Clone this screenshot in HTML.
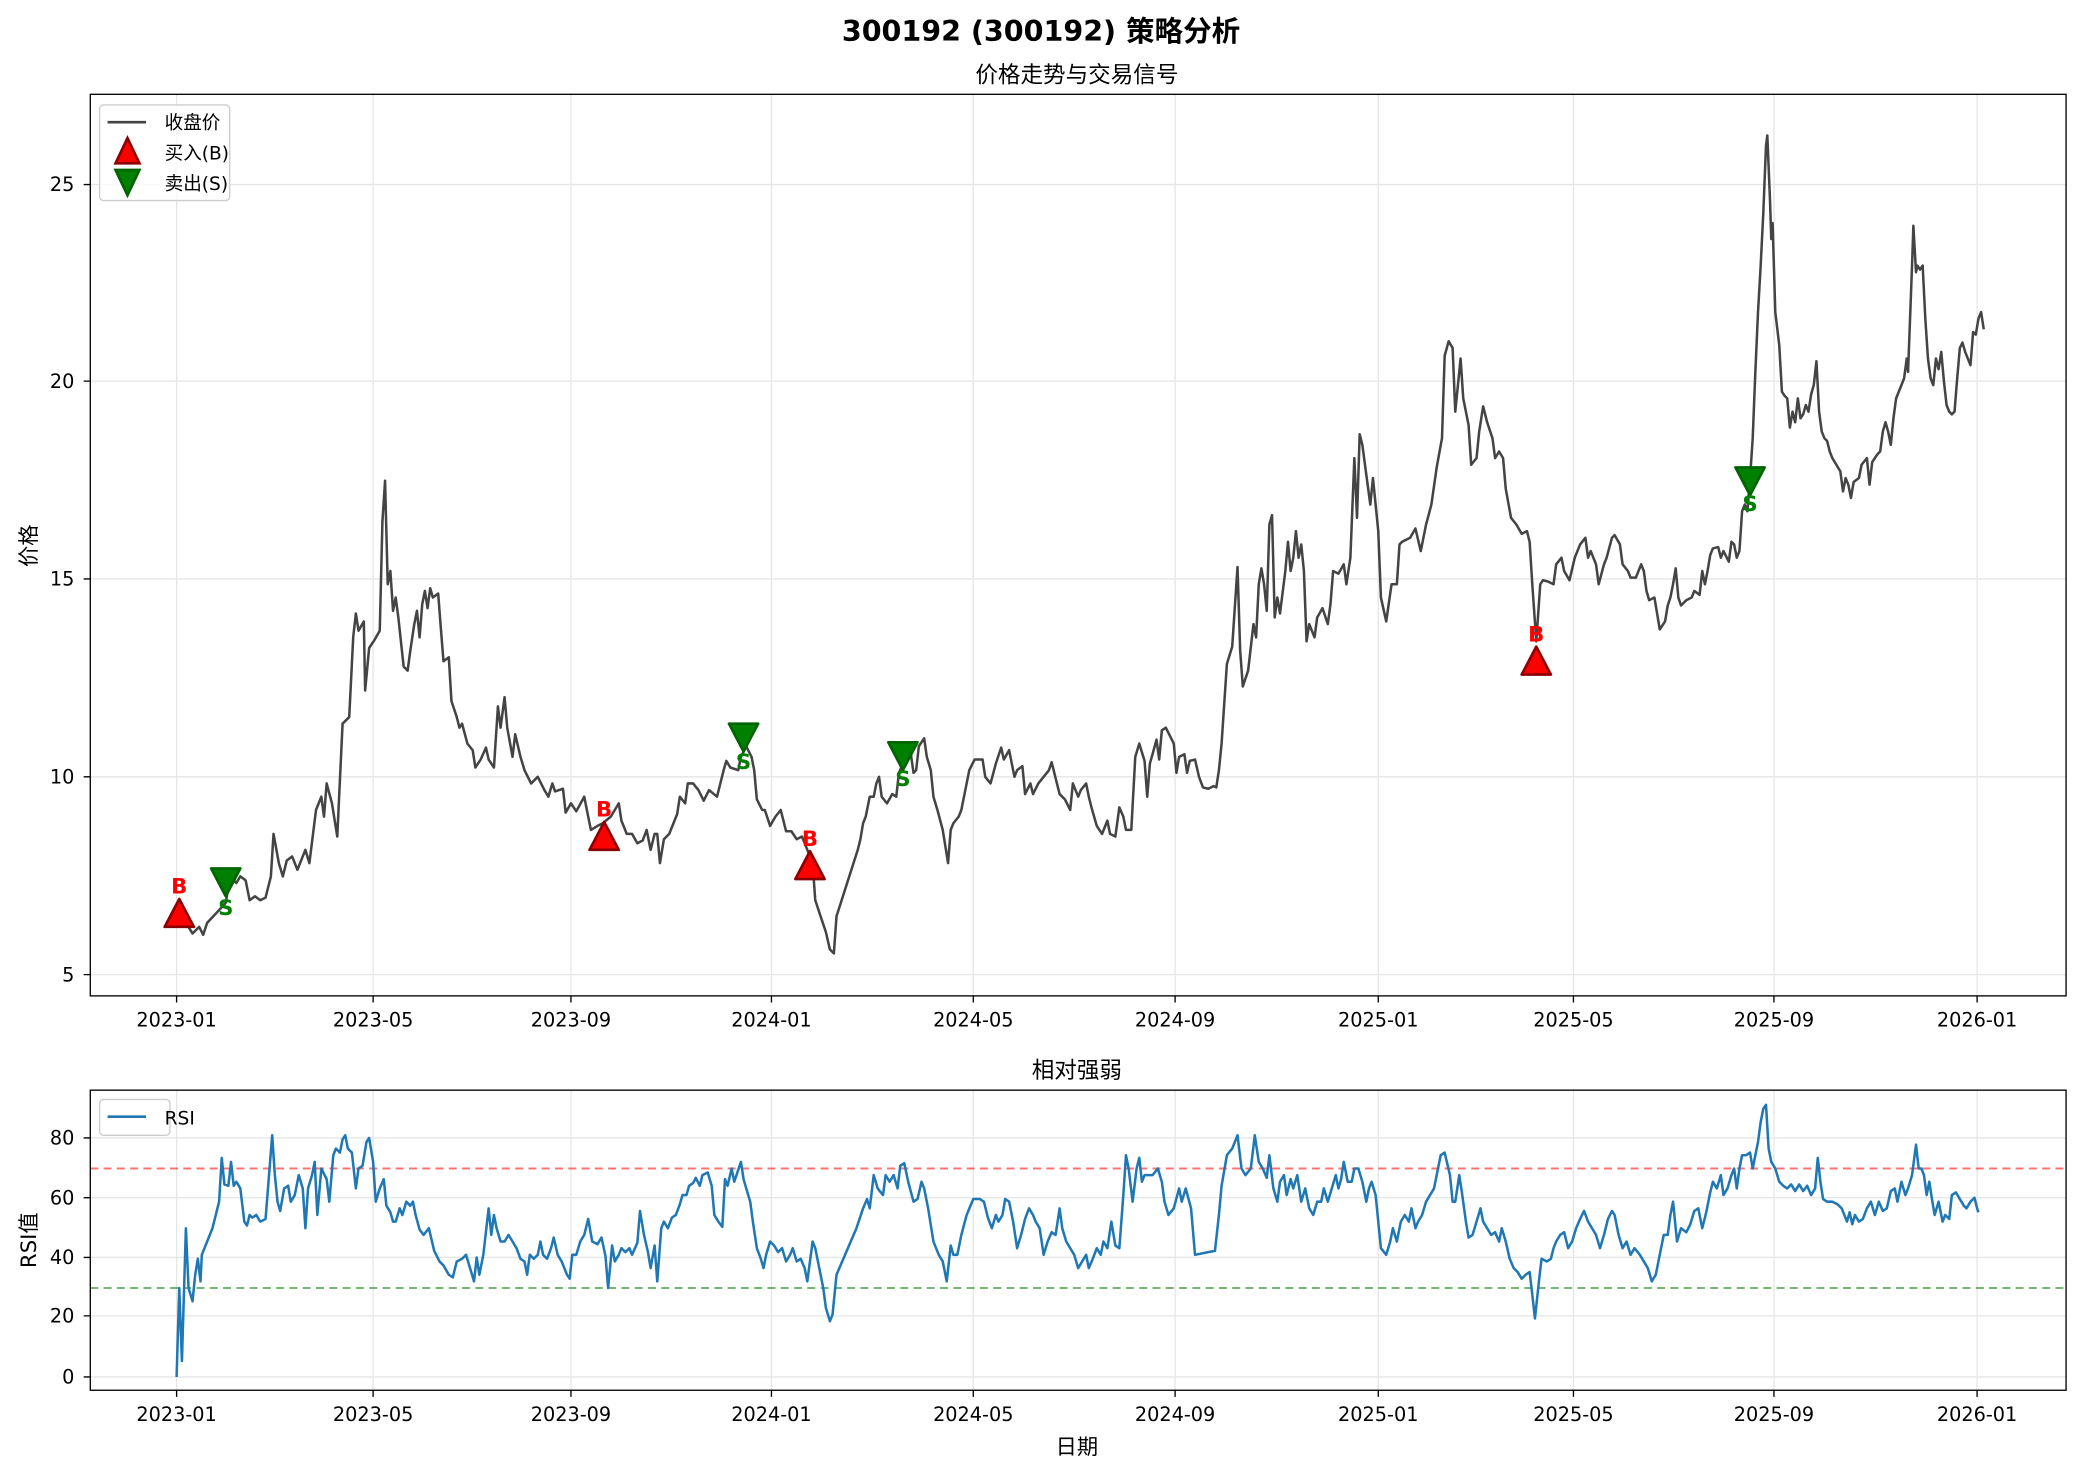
<!DOCTYPE html>
<html><head><meta charset="utf-8"><style>html,body{margin:0;padding:0;background:#fff}svg{display:block}</style></head>
<body>
<svg xmlns="http://www.w3.org/2000/svg" width="2082" height="1473" viewBox="0 0 1568 1109.3" font-family="'DejaVu Sans','Liberation Sans','Noto Sans CJK SC',sans-serif">
<rect width="1568" height="1110" fill="#fff"/>
<text x="784" y="31" font-size="21.5" font-weight="bold" text-anchor="middle">300192 (300192) 策略分析</text>
<text x="811" y="62" font-size="17" text-anchor="middle">价格走势与交易信号</text>
<text x="811" y="812" font-size="17" text-anchor="middle">相对强弱</text>
<g stroke="#e6e6e6" stroke-width="1">
<path d="M133 71V750M281 71V750M430 71V750M581 71V750M733 71V750M885 71V750M1038 71V750M1185 71V750M1336 71V750M1489 71V750"/>
<path d="M68 139H1556M68 287H1556M68 436H1556M68 585H1556M68 734H1556"/>
<path d="M133 821V1047M281 821V1047M430 821V1047M581 821V1047M733 821V1047M885 821V1047M1038 821V1047M1185 821V1047M1336 821V1047M1489 821V1047"/>
<path d="M68 857H1556M68 902H1556M68 947H1556M68 991H1556M68 1037H1556"/>
</g>
<polyline fill="none" stroke="#444" stroke-width="1.9" stroke-linejoin="round" points="136,690 140,695 145,703 148,700 150,698 153,704 156,695 170,680 172,668 175,662 178,665 181,660 185,663 188,678 192,675 196,678 200,676 204,660 206,628 210,650 213,660 216,648 220,645 224,655 230,640 233,650 238,610 242,600 244,615 246,590 250,605 254,630 258,545 263,540 266,480 268,462 270,475 274,468 275,520 278,488 282,482 286,475 288,393 290,362 292,440 294,430 296,460 298,450 300,465 304,502 307,505 309,490 312,470 314,460 316,480 318,455 320,445 322,458 324,443 326,450 330,447 332,473 334,498 338,495 340,528 344,540 346,548 348,545 352,560 356,565 358,578 362,572 366,563 368,572 372,578 375,532 377,548 380,525 382,548 386,570 388,553 392,570 395,580 400,590 405,585 410,595 413,600 416,590 418,596 424,594 426,612 430,605 434,611 440,600 445,625 450,622 454,620 460,615 466,605 468,618 472,628 476,628 480,635 484,633 487,625 490,640 493,628 495,628 497,650 500,632 504,628 510,613 512,600 516,605 518,590 522,590 526,595 530,603 534,595 540,600 545,580 547,573 550,578 556,580 558,570 562,562 566,570 568,580 570,602 574,610 576,610 580,622 584,615 588,610 592,626 596,626 600,632 604,630 608,640 612,650 614,678 618,690 622,702 625,715 628,718 630,690 646,640 648,632 650,620 652,615 655,600 658,600 660,590 662,585 664,600 668,605 672,598 675,600 677,582 680,575 682,568 686,568 688,582 690,580 692,562 696,556 698,570 701,580 703,600 706,610 710,625 714,650 716,625 718,620 722,615 724,610 728,590 730,580 734,572 740,572 742,585 746,590 750,575 754,563 756,572 760,565 762,575 764,585 766,580 770,577 772,598 776,590 778,598 782,590 786,585 790,580 792,574 796,590 798,598 802,602 806,610 808,590 812,600 814,595 818,590 820,600 822,608 824,615 826,622 830,628 834,618 836,628 840,630 843,608 846,615 848,625 852,625 855,570 858,560 862,573 864,600 866,575 868,568 871,557 873,572 875,550 878,548 880,552 884,560 886,582 888,570 892,568 894,582 896,573 900,572 903,585 906,593 910,594 914,592 916,593 918,580 920,560 924,500 928,487 932,427 934,490 936,517 940,505 944,470 946,480 948,440 950,428 952,440 954,460 956,395 958,388 960,465 962,450 964,462 968,430 970,408 972,430 974,420 976,400 978,420 980,410 982,430 984,483 986,470 990,480 992,465 996,458 1000,470 1002,455 1004,430 1008,432 1012,425 1014,440 1017,420 1020,345 1022,390 1024,327 1026,335 1030,365 1032,380 1034,360 1038,400 1040,450 1044,468 1048,440 1052,440 1054,410 1056,408 1062,405 1066,398 1070,415 1074,395 1078,380 1082,352 1086,330 1088,268 1091,257 1094,262 1096,310 1098,290 1100,270 1102,300 1106,320 1108,350 1112,345 1114,325 1117,306 1120,318 1124,330 1126,345 1129,340 1132,345 1134,368 1138,390 1142,395 1146,402 1150,400 1152,408 1154,440 1157,483 1160,440 1162,437 1166,438 1170,440 1172,425 1176,420 1178,430 1182,437 1186,420 1190,410 1194,405 1196,420 1198,415 1202,425 1204,440 1208,425 1210,420 1214,405 1216,403 1220,410 1222,425 1226,430 1228,435 1232,435 1236,425 1238,430 1240,445 1242,452 1246,450 1248,462 1250,474 1254,468 1256,456 1258,450 1260,440 1262,428 1264,450 1266,456 1270,452 1274,450 1276,445 1280,448 1282,430 1284,440 1286,430 1288,418 1290,413 1294,412 1296,420 1298,415 1302,423 1304,408 1306,410 1308,420 1310,415 1312,385 1314,380 1316,385 1318,360 1320,330 1322,280 1324,235 1326,200 1328,160 1330,110 1331,102 1333,150 1334,180 1335,168 1337,235 1340,260 1342,295 1344,298 1346,300 1348,322 1350,310 1352,318 1354,300 1356,315 1358,312 1360,305 1362,310 1364,297 1366,290 1368,272 1370,310 1372,325 1374,330 1376,332 1378,340 1380,345 1383,350 1386,355 1388,370 1390,360 1392,365 1394,375 1396,363 1400,360 1402,350 1406,345 1408,365 1410,348 1412,345 1414,342 1416,340 1418,325 1420,318 1422,325 1424,335 1426,315 1428,300 1430,295 1432,290 1434,285 1436,270 1437,280 1440,200 1441,170 1443,205 1444,200 1446,203 1448,200 1450,240 1452,270 1454,285 1456,290 1458,270 1460,278 1462,265 1464,287 1466,305 1468,310 1470,312 1472,310 1474,285 1476,262 1478,258 1480,265 1482,270 1484,275 1486,250 1488,252 1490,240 1492,235 1494,248"/>
<g stroke-width="2" stroke-linejoin="round">
<g fill="#f00" stroke="#8b0000">
<path d="M135,677 L146,698 L124,698Z"/><path d="M455,619 L466,640 L444,640Z"/><path d="M610,641 L621,662 L599,662Z"/><path d="M1157,487 L1168,508 L1146,508Z"/>
</g>
<g fill="#008000" stroke="#006400">
<path d="M159,654 L181,654 L170,675Z"/><path d="M549,545 L571,545 L560,566Z"/><path d="M669,559 L691,559 L680,580Z"/><path d="M1307,352 L1329,352 L1318,373Z"/>
</g>
</g>
<g font-size="16" font-weight="bold" text-anchor="middle">
<g fill="#f00"><text x="135" y="673">B</text><text x="455" y="615">B</text><text x="610" y="637">B</text><text x="1157" y="483">B</text></g>
<g fill="#008000"><text x="170" y="689">S</text><text x="560" y="579">S</text><text x="680" y="592">S</text><text x="1318" y="385">S</text></g>
</g>
<rect x="68" y="71" width="1488" height="679" fill="none" stroke="#000" stroke-width="1"/>
<g font-size="14.5" text-anchor="end">
<text x="56" y="144">25</text><text x="56" y="292">20</text><text x="56" y="441">15</text><text x="56" y="590">10</text><text x="56" y="739">5</text>
</g>
<g stroke="#000"><path d="M63 139H68M63 287H68M63 436H68M63 585H68M63 734H68"/>
<path d="M133 750v5M281 750v5M430 750v5M581 750v5M733 750v5M885 750v5M1038 750v5M1185 750v5M1336 750v5M1489 750v5"/></g>
<g font-size="14.5" text-anchor="middle">
<text x="133" y="773">2023-01</text><text x="281" y="773">2023-05</text><text x="430" y="773">2023-09</text><text x="581" y="773">2024-01</text><text x="733" y="773">2024-05</text><text x="885" y="773">2024-09</text><text x="1038" y="773">2025-01</text><text x="1185" y="773">2025-05</text><text x="1336" y="773">2025-09</text><text x="1489" y="773">2026-01</text>
</g>
<text transform="translate(27,411) rotate(-90)" font-size="16" text-anchor="middle">价格</text>
<rect x="75" y="79" width="98" height="72" rx="3" fill="#fff" fill-opacity="0.8" stroke="#ccc"/>
<path d="M81 92H110" stroke="#444" stroke-width="2"/>
<path d="M96,104 L105,123 L87,123Z" fill="#f00" stroke="#8b0000" stroke-width="2"/>
<path d="M87,128 L105,128 L96,147Z" fill="#008000" stroke="#006400" stroke-width="2"/>
<g font-size="14"><text x="124" y="97">收盘价</text><text x="124" y="120">买入(B)</text><text x="124" y="143">卖出(S)</text></g>
<path d="M68 880H1556" stroke="#f00" stroke-opacity="0.55" stroke-width="1.5" stroke-dasharray="6,4"/>
<path d="M68 970H1556" stroke="#008000" stroke-opacity="0.55" stroke-width="1.5" stroke-dasharray="6,4"/>
<polyline fill="none" stroke="#1f77b4" stroke-width="1.9" stroke-linejoin="round" points="133,1037 135,970 137,1025 140,925 142,970 145,980 147,960 149,948 151,965 152,945 154,940 160,925 165,905 167,872 169,892 172,893 174,875 176,893 178,890 181,895 184,920 186,923 188,915 190,917 193,915 196,920 200,918 203,880 205,855 207,885 209,905 211,912 214,895 217,893 219,905 222,900 225,885 228,895 230,925 232,895 235,885 237,875 239,915 242,880 246,888 248,905 251,870 253,865 256,868 258,858 260,855 262,865 265,868 268,895 270,880 273,878 276,860 278,857 281,875 283,905 286,895 289,888 291,908 294,913 296,920 298,920 301,910 303,915 306,905 309,908 311,905 313,915 316,926 319,930 323,925 327,942 331,950 334,953 338,960 341,962 344,950 348,948 351,945 354,955 357,965 359,947 361,960 364,945 368,910 370,930 372,915 374,925 377,935 380,935 383,930 386,935 389,940 392,948 395,950 397,960 399,945 402,948 405,945 407,935 409,945 412,948 415,940 417,932 420,945 423,950 427,960 429,963 431,945 434,945 437,935 440,930 443,918 446,935 450,937 453,932 456,946 458,970 461,938 463,950 466,945 468,940 471,943 474,940 476,945 480,936 482,912 485,930 488,943 490,955 493,938 495,965 498,925 500,920 503,925 506,917 509,915 512,907 514,900 517,900 519,893 522,891 524,887 527,893 529,885 533,883 536,893 538,915 541,920 544,924 546,888 548,893 551,880 553,890 556,881 558,875 560,888 562,895 565,905 567,920 570,940 573,948 575,955 577,945 580,935 583,938 586,943 589,940 592,950 595,945 597,940 600,950 603,948 606,955 608,965 610,950 612,935 614,940 617,955 620,970 622,985 625,995 627,990 630,960 645,925 650,910 653,903 655,910 658,885 661,895 665,900 667,885 670,890 673,885 676,895 678,878 681,876 684,890 688,905 691,903 694,890 696,895 699,910 703,935 707,945 710,950 713,965 716,938 718,945 721,945 724,930 728,915 733,903 738,903 741,905 744,917 747,925 750,915 752,920 755,915 757,903 760,905 763,920 766,940 769,930 772,918 775,910 778,915 780,920 783,925 786,945 789,935 792,928 795,930 798,910 800,925 803,935 806,940 809,945 812,955 815,950 818,945 820,955 823,948 826,940 829,945 831,935 834,940 837,920 840,938 843,940 846,900 848,870 850,880 853,905 856,880 858,872 860,890 862,885 865,885 868,885 872,880 875,890 877,905 880,915 884,910 888,895 890,905 893,895 897,910 900,945 910,943 915,942 918,915 920,893 924,870 928,865 932,855 935,880 938,885 942,880 945,855 948,875 951,880 954,887 956,870 959,895 962,905 964,890 967,885 969,900 972,888 974,895 977,885 980,905 983,895 986,910 989,915 992,905 995,905 997,895 1000,905 1003,895 1006,885 1008,895 1010,888 1012,875 1015,890 1018,890 1020,880 1023,880 1026,890 1029,905 1031,895 1033,890 1036,900 1040,940 1044,945 1047,935 1049,925 1052,935 1055,920 1058,915 1061,920 1063,910 1066,925 1068,920 1071,915 1074,905 1077,900 1080,895 1083,880 1085,870 1088,868 1092,885 1094,905 1096,905 1099,885 1101,898 1104,920 1106,932 1109,930 1112,920 1115,910 1117,920 1120,925 1123,930 1126,928 1129,935 1131,925 1134,935 1137,948 1140,955 1143,958 1146,963 1149,960 1152,958 1154,975 1156,993 1159,965 1161,948 1165,950 1168,948 1170,940 1172,935 1175,930 1178,928 1181,940 1184,935 1187,925 1190,918 1193,912 1196,920 1199,925 1202,930 1205,940 1208,930 1211,918 1214,912 1216,915 1219,930 1222,940 1225,935 1228,945 1231,940 1235,945 1238,950 1241,955 1244,965 1247,960 1250,945 1253,930 1256,930 1258,915 1260,905 1263,935 1266,925 1270,928 1273,922 1276,912 1279,910 1282,925 1285,913 1288,898 1290,890 1293,895 1296,885 1298,900 1301,895 1304,885 1306,880 1308,895 1310,880 1312,870 1315,870 1318,868 1320,880 1322,870 1324,860 1326,845 1328,835 1330,832 1332,865 1334,875 1337,880 1340,890 1343,893 1346,895 1349,892 1352,897 1355,892 1358,897 1361,893 1364,900 1367,895 1369,872 1371,890 1373,903 1376,905 1380,905 1384,907 1387,910 1389,915 1391,920 1393,913 1395,922 1397,915 1400,920 1403,918 1406,910 1409,905 1412,915 1415,905 1418,912 1421,910 1424,897 1427,895 1429,905 1432,890 1435,900 1437,895 1440,885 1443,862 1445,880 1447,880 1449,885 1451,900 1453,890 1455,903 1457,915 1460,905 1463,920 1465,915 1468,918 1470,900 1473,898 1476,903 1479,908 1481,910 1484,905 1487,902 1489,910 1490,913"/>
<rect x="68" y="821" width="1488" height="226" fill="none" stroke="#000" stroke-width="1"/>
<g stroke="#000"><path d="M63 857H68M63 902H68M63 947H68M63 991H68M63 1037H68"/>
<path d="M133 1047v5M281 1047v5M430 1047v5M581 1047v5M733 1047v5M885 1047v5M1038 1047v5M1185 1047v5M1336 1047v5M1489 1047v5"/></g>
<g font-size="14.5" text-anchor="end">
<text x="56" y="862">80</text><text x="56" y="907">60</text><text x="56" y="952">40</text><text x="56" y="996">20</text><text x="56" y="1042">0</text>
</g>
<g font-size="14.5" text-anchor="middle">
<text x="133" y="1070">2023-01</text><text x="281" y="1070">2023-05</text><text x="430" y="1070">2023-09</text><text x="581" y="1070">2024-01</text><text x="733" y="1070">2024-05</text><text x="885" y="1070">2024-09</text><text x="1038" y="1070">2025-01</text><text x="1185" y="1070">2025-05</text><text x="1336" y="1070">2025-09</text><text x="1489" y="1070">2026-01</text>
</g>
<text x="811" y="1095" font-size="16" text-anchor="middle">日期</text>
<text transform="translate(27,934) rotate(-90)" font-size="16" text-anchor="middle">RSI值</text>
<rect x="75" y="828" width="53" height="27" rx="3" fill="#fff" fill-opacity="0.8" stroke="#ccc"/>
<path d="M81 841H110" stroke="#1f77b4" stroke-width="2"/>
<text x="124" y="847" font-size="14">RSI</text>
</svg>
</body></html>
